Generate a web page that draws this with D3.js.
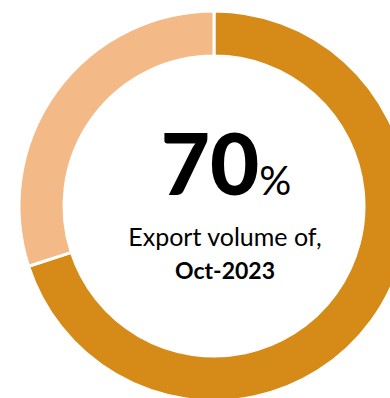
<!DOCTYPE html>
<html>
<head>
<meta charset="utf-8">
<script src="https://cdn.jsdelivr.net/npm/d3@7"></script>
<style>
  html, body { margin: 0; padding: 0; background: #ffffff; }
  svg { display: block; }
</style>
</head>
<body>
<svg id="chart" width="390" height="398"></svg>
<script>
// Share of export volume vs. the remainder
const categories = ["Export volume", "Remaining"];
const values = [70, 30];
const colors = ["#D68B19", "#F3BA87"];
const headline = "70";
const headlineUnit = "%";
const subtitle = "Export volume of,";
const period = "Oct-2023";

const svg = d3.select("#chart");
const cx = 214, cy = 206;
const outerR = 195, innerR = 150;

const pie = d3.pie().sort(null).value(d => d.value);
const arc = d3.arc().innerRadius(innerR).outerRadius(outerR);

const data = categories.map((c, i) => ({ name: c, value: values[i], color: colors[i] }));

const g = svg.append("g").attr("transform", `translate(${cx},${cy})`);
g.selectAll("path")
  .data(pie(data))
  .join("path")
  .attr("d", arc)
  .attr("fill", d => d.data.color)
  .attr("stroke", "#ffffff")
  .attr("stroke-width", 3);

const font = "Lato, 'Open Sans', sans-serif";
const big = svg.append("text")
  .attr("x", 226).attr("y", 195)
  .attr("text-anchor", "middle")
  .attr("font-family", font)
  .attr("fill", "#000");
big.append("tspan").attr("font-size", 85).attr("font-weight", 900).text(headline);
big.append("tspan").attr("font-size", 40).attr("font-weight", 400).text(headlineUnit);

svg.append("text")
  .attr("x", 225).attr("y", 246)
  .attr("text-anchor", "middle")
  .attr("font-family", font)
  .attr("font-size", 25)
  .attr("fill", "#000")
  .text(subtitle);

svg.append("text")
  .attr("x", 225).attr("y", 279)
  .attr("text-anchor", "middle")
  .attr("font-family", font)
  .attr("font-size", 23)
  .attr("font-weight", 700)
  .attr("fill", "#000")
  .text(period);
</script>
</body>
</html>
